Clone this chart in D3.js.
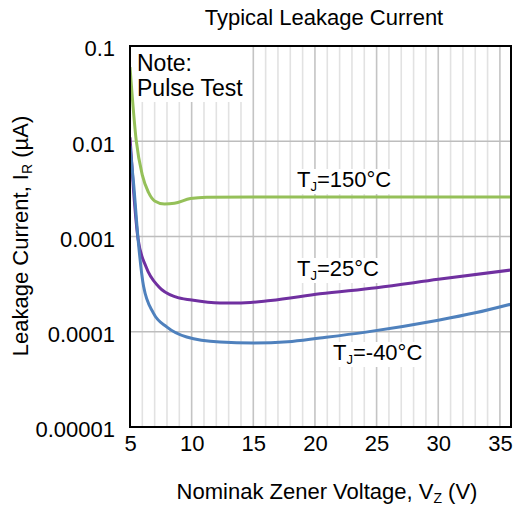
<!DOCTYPE html>
<html>
  <head>
    <script src="https://d3js.org/d3.v7.min.js"></script>
    <style>
      body { margin: 0; background: #fff; }
      text { font-family: "Liberation Sans", Arial, sans-serif; fill: #000; }
    </style>
  </head>
  <body>
    <svg id="chart" width="516" height="508"></svg>

    <script>
      // data
      const volts150 = [5, 5.5, 6, 6.5, 7, 7.8, 8.6, 9.9, 11.2, 15, 20, 25, 30, 35.9];
      const leak150 = [0.06, 0.0103, 0.0044, 0.0029, 0.00236, 0.00219, 0.00223, 0.0025, 0.00259, 0.0026, 0.0026, 0.0026, 0.0026, 0.0026];

      const volts25 = [5, 5.3, 5.65, 6.3, 7.35, 8.7, 10, 12.3, 13.7, 16.4, 20.4, 25, 30, 35.9];
      const leak25 = [0.011, 0.0029, 0.00095, 0.00048, 0.000295, 0.000232, 0.000215, 0.0002, 0.0002, 0.000213, 0.00025, 0.00029, 0.000355, 0.000445];

      const voltsM40 = [5, 5.3, 5.65, 6.1, 6.9, 8, 9.6, 12.3, 15, 17.8, 20.4, 24, 30, 33, 35.9];
      const leakM40 = [0.009, 0.0035, 0.00095, 0.0003, 0.000157, 0.000112, 0.0000881, 0.000078, 0.0000762, 0.0000785, 0.000086, 0.0000985, 0.000132, 0.000158, 0.000195];

      const xTicks = [5, 10, 15, 20, 25, 30, 35];
      const yTicks = [0.00001, 0.0001, 0.001, 0.01, 0.1];
      const yTickLabels = ["0.00001", "0.0001", "0.001", "0.01", "0.1"];

      var pLeft = 130, pRight = 511, pTop = 46, pBottom = 427;

      var svg = d3.select("#chart");

      var x = d3.scaleLinear().domain([5, 35.9]).range([pLeft, pRight]);
      var y = d3.scaleLog().domain([0.00001, 0.1]).range([pBottom, pTop]);

      // grid, one line every volt, darker every 5 V
      svg.append("g").selectAll("line")
        .data(d3.range(6, 36))
        .enter()
        .append("line")
        .attr("x1", d => x(d)).attr("x2", d => x(d))
        .attr("y1", pTop).attr("y2", pBottom)
        .attr("stroke", d => d % 5 == 0 ? "#c4c4c4" : "#e2e2e2")
        .attr("stroke-width", 1.6);

      svg.append("g").selectAll("line")
        .data(yTicks.slice(1, 4))
        .enter()
        .append("line")
        .attr("x1", pLeft).attr("x2", pRight)
        .attr("y1", d => y(d)).attr("y2", d => y(d))
        .attr("stroke", "#bdbdbd")
        .attr("stroke-width", 1.6);

      // white box behind the note
      svg.append("rect").attr("x", pLeft + 1).attr("y", pTop + 1).attr("width", 120).attr("height", 55).attr("fill", "#fff");

      var line = d3.line()
        .x(d => x(d[0]))
        .y(d => y(d[1]))
        .curve(d3.curveMonotoneX);

      var series = [
        { v: volts150, i: leak150, color: "#95c059" },
        { v: volts25, i: leak25, color: "#7030a0" },
        { v: voltsM40, i: leakM40, color: "#4f81bd" }
      ];

      svg.append("clipPath").attr("id", "plot")
        .append("rect").attr("x", pLeft).attr("y", pTop).attr("width", pRight - pLeft).attr("height", pBottom - pTop);

      svg.append("g").attr("clip-path", "url(#plot)")
        .selectAll("path")
        .data(series)
        .enter()
        .append("path")
        .attr("d", s => line(d3.zip(s.v, s.i)))
        .attr("fill", "none")
        .attr("stroke", s => s.color)
        .attr("stroke-width", 3);

      // curve labels
      var labels = [
        { x: 297, y: 187, t: "=150°C" },
        { x: 297, y: 276, t: "=25°C" },
        { x: 333, y: 360, t: "=-40°C" }
      ];
      labels.forEach(function(l) {
        var g = svg.append("g");
        var bg = g.append("rect").attr("fill", "#fff");
        var txt = g.append("text")
          .attr("x", l.x).attr("y", l.y)
          .style("font-size", "22px");
        txt.append("tspan").text("T");
        txt.append("tspan").attr("dy", 4).style("font-size", "13px").text("J");
        txt.append("tspan").attr("dy", -4).text(l.t);
        var b = txt.node().getBBox();
        bg.attr("x", b.x - 1).attr("y", b.y + 2).attr("width", b.width + 2).attr("height", b.height - 2);
      });

      svg.append("text").attr("x", 137).attr("y", 71).style("font-size", "23px").text("Note:");
      svg.append("text").attr("x", 137).attr("y", 96).style("font-size", "23px").text("Pulse Test");

      // frame
      svg.append("rect")
        .attr("x", pLeft).attr("y", pTop)
        .attr("width", pRight - pLeft).attr("height", pBottom - pTop)
        .attr("fill", "none").attr("stroke", "#000").attr("stroke-width", 2);

      // axes
      var xAxis = svg.append("g")
        .attr("transform", "translate(0," + pBottom + ")")
        .call(d3.axisBottom(x).tickValues(xTicks).tickSize(0).tickPadding(8).tickFormat(d3.format("d")));
      xAxis.select(".domain").remove();
      xAxis.selectAll("text").style("font-size", "22px").style("font-family", "'Liberation Sans', Arial, sans-serif");

      var yAxis = svg.append("g")
        .attr("transform", "translate(" + pLeft + ",0)")
        .call(d3.axisLeft(y).tickValues(yTicks).tickSize(0).tickPadding(15)
          .tickFormat((d, i) => yTickLabels[i]));
      yAxis.select(".domain").remove();
      yAxis.selectAll("text").style("font-size", "22px").style("font-family", "'Liberation Sans', Arial, sans-serif")
        .attr("dy", "0.45em");

      svg.append("text")
        .attr("x", 324).attr("y", 25)
        .attr("text-anchor", "middle")
        .style("font-size", "22px")
        .text("Typical Leakage Current");

      var xl = svg.append("text")
        .attr("x", 327).attr("y", 499)
        .attr("text-anchor", "middle")
        .style("font-size", "22px");
      xl.append("tspan").text("Nominak Zener Voltage, V");
      xl.append("tspan").attr("dy", 4).style("font-size", "14px").text("Z");
      xl.append("tspan").attr("dy", -4).text(" (V)");

      var yl = svg.append("text")
        .attr("transform", "translate(28,236) rotate(-90)")
        .attr("text-anchor", "middle")
        .style("font-size", "22px");
      yl.append("tspan").text("Leakage Current, I");
      yl.append("tspan").attr("dy", 4).style("font-size", "14px").text("R");
      yl.append("tspan").attr("dy", -4).text(" (µA)");
    </script>
  </body>
</html>
